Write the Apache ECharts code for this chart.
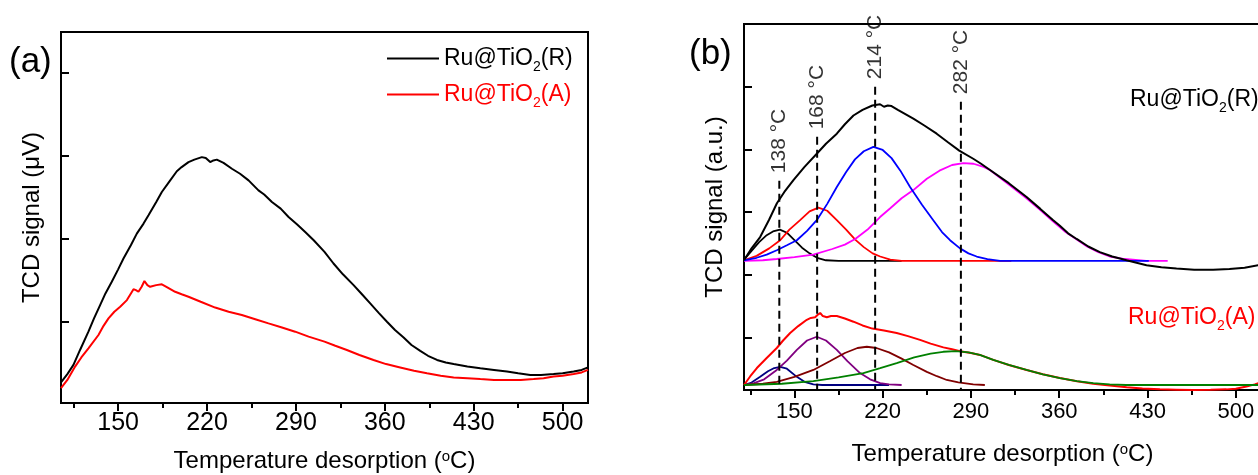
<!DOCTYPE html>
<html>
<head>
<meta charset="utf-8">
<script src="https://cdn.jsdelivr.net/npm/echarts@6/dist/echarts.min.js"></script>
<style>
  html, body { margin: 0; padding: 0; background: #ffffff; }
  #chart { width: 1258px; height: 475px; }
</style>
</head>
<body>
<div id="chart"></div>
<script>
// ---- axis ticks ----
const xTicksMajor = [150, 220, 290, 360, 430, 500];
const xTicksMinor = [115, 185, 255, 325, 395, 465];
const yTicksA = [1, 2, 3, 4];
const yTicksB = [1, 2, 3, 4, 5];

// ---- panel (a): raw TPD traces [temperature, signal] ----
const tpdR = [[105,0.27],[110,0.37],[114.8,0.48],[120,0.66],[126.6,0.88],[131,1.04],[135.8,1.20],[140,1.34],[145,1.48],[150,1.63],[154.2,1.76],[160,1.92],[164.7,2.06],[170,2.18],[173.9,2.28],[180,2.44],[184.4,2.56],[190,2.68],[196.2,2.81],[200,2.86],[205.4,2.92],[210,2.95],[215.9,2.98],[219,2.97],[222.5,2.92],[225,2.94],[227.7,2.95],[233,2.91],[239.6,2.84],[246,2.78],[252.7,2.70],[260.5,2.58],[265,2.53],[271.1,2.44],[278,2.36],[284.2,2.26],[291,2.17],[297.3,2.08],[304,1.98],[312.5,1.84],[319.6,1.70],[327,1.57],[335.4,1.44],[342,1.33],[348.5,1.22],[355,1.11],[361.7,1.00],[368,0.90],[374.8,0.81],[381,0.72],[387.9,0.65],[394,0.59],[401.1,0.54],[408,0.51],[414.2,0.49],[425,0.46],[435.2,0.44],[446,0.42],[456.2,0.40],[465,0.38],[474.5,0.36],[483,0.36],[492.9,0.37],[500,0.38],[508.7,0.40],[515,0.42],[520,0.45]];
const tpdA = [[105,0.20],[110,0.30],[116.1,0.46],[121,0.57],[126.6,0.68],[134.5,0.84],[138.5,0.95],[142.4,1.04],[147,1.12],[151.6,1.18],[156.9,1.26],[162.1,1.39],[164,1.38],[166,1.36],[168.5,1.42],[170.7,1.49],[173,1.44],[175.2,1.42],[180,1.44],[184.4,1.45],[188,1.42],[194.9,1.36],[200,1.33],[205.4,1.30],[215,1.24],[226.4,1.17],[237,1.12],[247.4,1.08],[258,1.03],[268.4,0.98],[279,0.93],[289.4,0.88],[300,0.82],[312.5,0.76],[321,0.71],[330.1,0.66],[340,0.60],[351.1,0.54],[361,0.49],[372.1,0.45],[383,0.41],[393.2,0.38],[404,0.35],[414.2,0.33],[425,0.32],[435.2,0.31],[446,0.30],[456.2,0.30],[467,0.30],[477.2,0.31],[485,0.32],[492.9,0.34],[500,0.35],[508.7,0.37],[515,0.39],[520,0.42]];

// ---- panel (b): Ru@TiO2(R) trace and its fitted peaks (offset stack) ----
const fitR_total = [[110,2.23],[116,2.42],[122.8,2.60],[130,2.88],[136.1,3.14],[142,3.32],[149.2,3.51],[158,3.72],[167.7,3.93],[175,4.09],[183.6,4.25],[190,4.40],[196.8,4.54],[204,4.63],[211.8,4.70],[217.9,4.72],[221,4.68],[224,4.70],[227,4.69],[232,4.63],[244.3,4.49],[253,4.38],[262.8,4.25],[272,4.11],[280.7,3.98],[291.8,3.85],[298,3.77],[305.1,3.67],[320,3.46],[334.1,3.24],[345,3.05],[355.2,2.87],[360.5,2.78],[367,2.66],[373.8,2.57],[383,2.45],[392.2,2.36],[402,2.29],[413.4,2.23],[429.2,2.15],[441,2.12],[453,2.10],[467,2.08],[482,2.08],[495,2.09],[507,2.11],[520,2.16]];
const fitR_p138 = [[110,2.24],[116,2.38],[122,2.52],[128,2.63],[133,2.69],[138.5,2.72],[144,2.67],[150,2.55],[156,2.43],[162,2.34],[168,2.27],[175,2.23],[185,2.22],[235,2.22]];
const fitR_p168 = [[110,2.23],[120,2.30],[130,2.42],[138.7,2.55],[146,2.72],[154.5,2.87],[162,3.01],[169,3.07],[176,3.02],[183.6,2.87],[191,2.72],[198.2,2.56],[205,2.44],[212,2.34],[218,2.29],[226,2.24],[235,2.22],[322,2.22]];
const fitR_p214 = [[110,2.23],[120,2.27],[128,2.32],[136,2.39],[144,2.47],[151.9,2.55],[160,2.70],[167.7,2.87],[176,3.13],[183.6,3.40],[191,3.64],[198,3.84],[205,3.97],[212.6,4.04],[220,3.99],[227,3.86],[234,3.66],[241.7,3.40],[251,3.12],[260.1,2.87],[267,2.68],[273.4,2.55],[281.3,2.42],[288,2.34],[294.5,2.29],[303,2.25],[313,2.22],[431,2.22]];
const fitR_p282 = [[110,2.22],[125,2.23],[136,2.25],[150,2.28],[165,2.32],[180,2.41],[190,2.48],[198.2,2.57],[208,2.72],[217.9,2.92],[226,3.06],[235,3.22],[244.3,3.35],[255,3.53],[265,3.66],[275,3.75],[284,3.78],[292,3.77],[300,3.72],[305,3.67],[320,3.44],[334,3.22],[345,3.03],[355,2.85],[365,2.68],[372.4,2.58],[382,2.45],[391,2.36],[400,2.29],[412,2.25],[429,2.22],[446,2.22]];

// ---- panel (b): Ru@TiO2(A) trace and its fitted peaks ----
const fitA_total = [[110,0.24],[115,0.38],[120.2,0.51],[128,0.67],[136,0.83],[141,0.95],[146.6,1.07],[153,1.18],[159.8,1.28],[163,1.31],[166.4,1.32],[168.5,1.36],[170.4,1.39],[172.5,1.34],[175.7,1.32],[179,1.34],[183.6,1.34],[190,1.30],[196.8,1.25],[204,1.19],[211.8,1.14],[221,1.11],[231.1,1.07],[240,1.02],[249.6,0.96],[258,0.90],[268.1,0.84],[275,0.81],[281.3,0.78],[290,0.75],[297.1,0.72],[307.7,0.64],[320,0.56],[334.1,0.48],[347,0.41],[360.5,0.35],[374,0.30],[386.9,0.26],[400,0.23],[413.4,0.205],[426,0.185],[439.8,0.17],[453,0.165],[466.2,0.16],[480,0.163],[492.6,0.17],[500,0.18],[508.5,0.215],[515,0.25],[520,0.28]];
const fitA_p138 = [[110,0.24],[116,0.28],[122.8,0.37],[129,0.46],[134,0.51],[138.7,0.53],[144,0.50],[151.9,0.37],[158,0.29],[165,0.25],[172,0.24],[225,0.24]];
const fitA_p168 = [[110,0.24],[118,0.27],[126,0.33],[136,0.48],[144,0.63],[151.9,0.80],[160,0.95],[167.7,1.01],[175,0.95],[183.6,0.80],[192,0.62],[202,0.43],[210,0.33],[218,0.27],[225,0.25],[235,0.24]];
const fitA_p214 = [[110,0.24],[125,0.26],[136,0.29],[150,0.37],[165,0.48],[178,0.62],[190,0.75],[200,0.83],[207.4,0.85],[215,0.83],[225,0.76],[235,0.66],[244.3,0.56],[255,0.45],[263,0.38],[270.8,0.32],[280,0.28],[291.8,0.25],[301,0.24]];
const fitA_p282 = [[110,0.24],[140,0.26],[165,0.30],[185,0.36],[204.7,0.43],[218,0.51],[231.1,0.59],[245,0.68],[258,0.74],[268,0.77],[278,0.78],[288,0.76],[297,0.72],[307.7,0.64],[320,0.56],[334,0.48],[347,0.41],[360.5,0.35],[374,0.30],[387,0.27],[400,0.25],[413,0.24],[520,0.24]];

// ---- peak positions and the top of each guide line ----
const peakTemps = [138, 168, 214, 282];
const peakLineTops = [3.50, 4.20, 5.00, 4.76];

const FONT = '"Liberation Sans", Arial, Helvetica, sans-serif';
const BLACK = '#000000';

const nameRich = {
  sup: { fontSize: 15, lineHeight: 11, verticalAlign: 'top', fontFamily: FONT, color: BLACK }
};
// subscript: small token pinned to the bottom of a tall line box
const subRich = {
  sub: { fontSize: 14, lineHeight: 7, verticalAlign: 'bottom', fontFamily: FONT }
};

function majorX(gridIndex, min, nameGap, labelSize, labelMargin) {
  return {
    type: 'value', gridIndex, min, max: 520, position: 'bottom',
    name: 'Temperature desorption ({sup|o}C)',
    nameLocation: 'middle', nameGap, nameMoveOverlap: false,
    nameTextStyle: { fontFamily: FONT, fontSize: 24, color: BLACK, rich: nameRich },
    axisLine: { show: true, onZero: false, lineStyle: { color: BLACK, width: 2 } },
    axisTick: { show: true, inside: false, length: 8, customValues: xTicksMajor, lineStyle: { color: BLACK, width: 2 } },
    axisLabel: { show: true, customValues: xTicksMajor, margin: labelMargin, fontFamily: FONT, fontSize: labelSize, color: BLACK },
    splitLine: { show: false }, minorTick: { show: false }
  };
}
function minorX(gridIndex, min) {
  return {
    type: 'value', gridIndex, min, max: 520, position: 'bottom',
    axisLine: { show: false, onZero: false },
    axisTick: { show: true, inside: false, length: 5, customValues: xTicksMinor, lineStyle: { color: BLACK, width: 2 } },
    axisLabel: { show: false },
    splitLine: { show: false }
  };
}
function yAxisFor(gridIndex, min, max, ticks, name) {
  return {
    type: 'value', gridIndex, min, max, position: 'left',
    name, nameLocation: 'middle', nameGap: 17, nameMoveOverlap: false,
    nameTextStyle: { fontFamily: FONT, fontSize: 24, color: BLACK },
    axisLine: { show: true, onZero: false, lineStyle: { color: BLACK, width: 2 } },
    axisTick: { show: true, inside: true, length: 8, customValues: ticks, lineStyle: { color: BLACK, width: 2 } },
    axisLabel: { show: false },
    splitLine: { show: false }
  };
}

function trace(name, data, color, xi, yi, width) {
  return {
    type: 'line', name, data, xAxisIndex: xi, yAxisIndex: yi,
    symbol: 'none', showSymbol: false, smooth: false, silent: true,
    lineStyle: { color, width: width || 2 }, itemStyle: { color },
    z: 3
  };
}

const series = [
  trace('Ru@TiO2(R)', tpdR, '#000000', 0, 0, 2),
  trace('Ru@TiO2(A)', tpdA, '#ff0000', 0, 0, 2),

  trace('R 138', fitR_p138, '#000000', 2, 1, 1.8),
  trace('R 168', fitR_p168, '#ff0000', 2, 1, 1.8),
  trace('R 282', fitR_p282, '#ff00ff', 2, 1, 1.8),
  trace('R 214', fitR_p214, '#0000ff', 2, 1, 1.8),
  trace('R total', fitR_total, '#000000', 2, 1, 2),

  trace('A 138', fitA_p138, '#000080', 2, 1, 1.8),
  trace('A 168', fitA_p168, '#800080', 2, 1, 1.8),
  trace('A 214', fitA_p214, '#800000', 2, 1, 1.8),
  trace('A total', fitA_total, '#ff0000', 2, 1, 2),
  trace('A 282', fitA_p282, '#008000', 2, 1, 1.8)
];

// dashed guide lines at the fitted peak temperatures
peakTemps.forEach((t, i) => {
  series.push({
    type: 'line', name: 'guide ' + t, xAxisIndex: 2, yAxisIndex: 1,
    data: [[t, peakLineTops[i]], [t, 0.16]],
    symbol: 'none', showSymbol: false, silent: true,
    lineStyle: { color: BLACK, width: 2, type: [8, 5] }, z: 4
  });
});

// vertical peak-temperature labels
series.push({
  type: 'scatter', name: 'peak labels', xAxisIndex: 2, yAxisIndex: 1,
  data: peakTemps.map((t, i) => [t, peakLineTops[i]]),
  symbol: 'circle', symbolSize: 1, silent: true,
  itemStyle: { color: 'rgba(0,0,0,0)' },
  label: {
    show: true, position: 'top', distance: 7, rotate: 90,
    align: 'left', verticalAlign: 'middle',
    fontFamily: FONT, fontSize: 21, color: BLACK,
    formatter: p => p.value[0] + ' °C'
  },
  z: 5
});

const chart = echarts.init(document.getElementById('chart'), null, { renderer: 'canvas' });
chart.setOption({
  animation: false,
  backgroundColor: '#ffffff',
  grid: [
    { left: 61, top: 32, width: 527, height: 371, show: true, borderColor: BLACK, borderWidth: 2, backgroundColor: 'transparent', containLabel: false, outerBoundsMode: 'none' },
    { left: 744, top: 24, width: 517, height: 366, show: true, borderColor: BLACK, borderWidth: 2, backgroundColor: 'transparent', containLabel: false, outerBoundsMode: 'none' }
  ],
  xAxis: [
    majorX(0, 105, 46, 25, 8),
    minorX(0, 105),
    majorX(1, 110, 52, 22, 11),
    minorX(1, 110)
  ],
  yAxis: [
    yAxisFor(0, 0.022, 4.485, yTicksA, 'TCD signal (μV)'),
    yAxisFor(1, 0.16, 6.0, yTicksB, 'TCD signal (a.u.)')
  ],
  legend: {
    show: true, orient: 'vertical', left: 387, top: 43, padding: 0,
    itemWidth: 52, itemHeight: 2, itemGap: 5, icon: 'rect',
    selectedMode: false,
    data: [
      { name: 'Ru@TiO2(R)', icon: 'rect', itemStyle: { color: '#000000' }, textStyle: { color: '#000000' } },
      { name: 'Ru@TiO2(A)', icon: 'rect', itemStyle: { color: '#ff0000' }, textStyle: { color: '#ff0000' } }
    ],
    formatter: n => n.replace('TiO2', 'TiO{sub|2}'),
    textStyle: { fontFamily: FONT, fontSize: 23, lineHeight: 31, rich: subRich }
  },
  graphic: [
    { type: 'text', left: 9, top: 45, silent: true,
      style: { text: '(a)', font: '35px ' + FONT, fill: BLACK } },
    { type: 'text', left: 689, top: 37, silent: true,
      style: { text: '(b)', font: '35px ' + FONT, fill: BLACK } },
    { type: 'text', x: 1130, y: 100, silent: true,
      style: { text: 'Ru@TiO{sub|2}(R)', fontFamily: FONT, fontSize: 23, lineHeight: 31, fill: '#000000',
               verticalAlign: 'middle', rich: subRich } },
    { type: 'text', x: 1128, y: 318, silent: true,
      style: { text: 'Ru@TiO{sub|2}(A)', fontFamily: FONT, fontSize: 23, lineHeight: 31, fill: '#ff0000',
               verticalAlign: 'middle', rich: subRich } }
  ],
  series
});
</script>
</body>
</html>
